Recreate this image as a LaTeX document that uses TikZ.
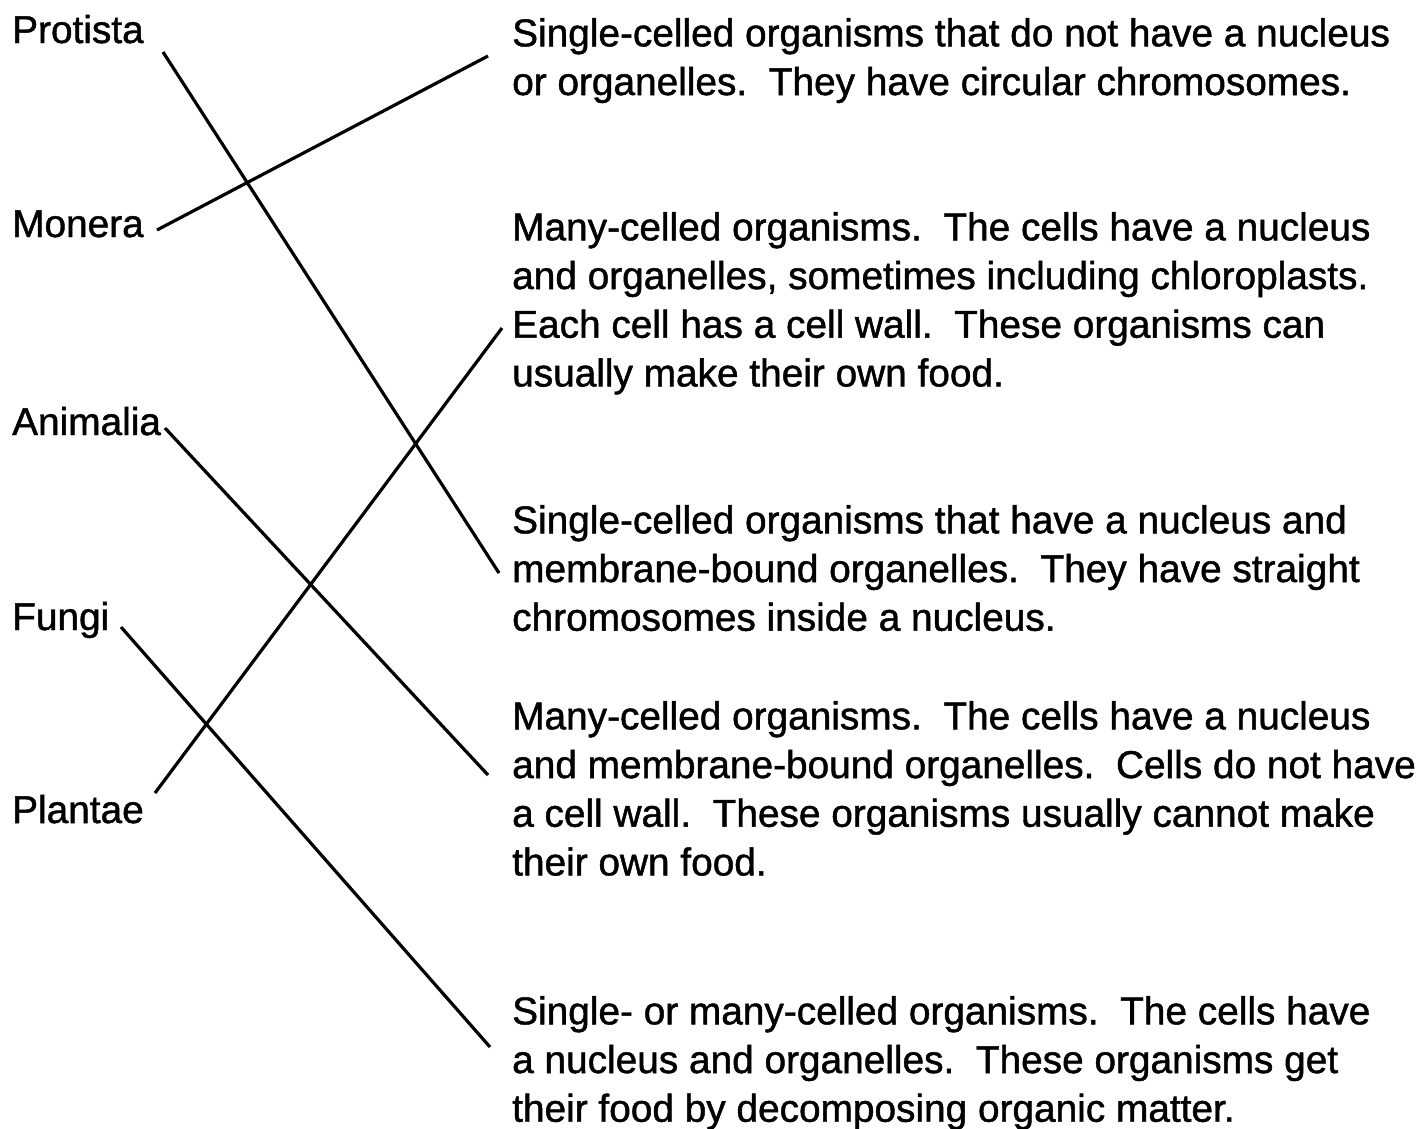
\documentclass[tikz,border=0pt]{standalone}
\usepackage{fontspec}
\setmainfont{Liberation Sans}[FakeBold=1.2]
\begin{document}
\begin{tikzpicture}[x=1pt,y=-1pt,
  lbl/.style={anchor=base west,inner sep=0pt,font=\fontsize{38.8}{48.7}\selectfont},
  desc/.style={anchor=north west,inner sep=0pt,align=left,font=\fontsize{38.8}{48.7}\selectfont},
  link/.style={line width=3.2pt}]
\useasboundingbox (0,0) rectangle (1420,1128);
% left labels
\node[lbl] (protista) at (12,43) {Protista};
\node[lbl] (monera) at (12,237) {Monera};
\node[lbl] (animalia) at (12,435) {Animalia};
\node[lbl] (fungi) at (12,630) {Fungi};
\node[lbl] (plantae) at (12,823) {Plantae};
% descriptions
\node[desc] (d1) at (512,18) {Single-celled organisms that do not have a nucleus\\or organelles.\ \ They have circular chromosomes.};
\node[desc] (d2) at (512,212) {Many-celled organisms.\ \ The cells have a nucleus\\and organelles, sometimes including chloroplasts.\\Each cell has a cell wall.\ \ These organisms can\\usually make their own food.};
\node[desc] (d3) at (512,505) {Single-celled organisms that have a nucleus and\\membrane-bound organelles.\ \ They have straight\\chromosomes inside a nucleus.};
\node[desc] (d4) at (512,701) {Many-celled organisms.\ \ The cells have a nucleus\\and membrane-bound organelles.\ \ Cells do not have\\a cell wall.\ \ These organisms usually cannot make\\their own food.};
\node[desc] (d5) at (512,996) {Single- or many-celled organisms.\ \ The cells have\\a nucleus and organelles.\ \ These organisms get\\their food by decomposing organic matter.};
% connector ends
\coordinate (pS) at (163,52);  \coordinate (pE) at (499,573);
\coordinate (mS) at (157,230); \coordinate (mE) at (488,56);
\coordinate (aS) at (165,428); \coordinate (aE) at (488,775);
\coordinate (fS) at (121,627); \coordinate (fE) at (490,1047);
\coordinate (plS) at (155,793); \coordinate (plE) at (502,328);
\draw[link] (pS) -- (pE);
\draw[link] (mS) -- (mE);
\draw[link] (aS) -- (aE);
\draw[link] (fS) -- (fE);
\draw[link] (plS) -- (plE);
\end{tikzpicture}
\end{document}
